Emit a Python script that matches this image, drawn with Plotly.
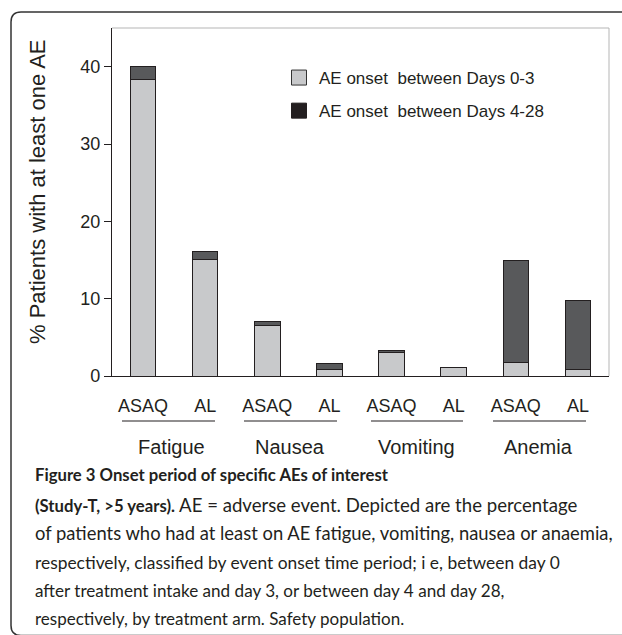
import plotly.graph_objects as go

# ---- data ----
arm_labels = ["ASAQ", "AL", "ASAQ", "AL", "ASAQ", "AL", "ASAQ", "AL"]
groups = ["Fatigue", "Nausea", "Vomiting", "Anemia"]
onset_0_3 = [38.3, 15.1, 6.5, 0.8, 3.0, 1.1, 1.8, 0.8]
onset_4_28 = [1.7, 1.0, 0.6, 0.8, 0.3, 0.0, 13.1, 9.0]
series_names = ["AE onset  between Days 0-3", "AE onset  between Days 4-28"]
y_ticks = [0, 10, 20, 30, 40]
bar_pos = list(range(len(arm_labels)))

# ---- layout geometry (pixels) ----
W, H = 622, 635
L, R, T, B = 112, 13, 28, 259
PW = W - L - R
PH = H - T - B
Y0 = H - B  # pixel y of the bottom axis


def px(x):
    return (x - L) / PW


def py(y):
    return (Y0 - y) / PH


group_center_px = [171, 290, 416, 538]
underline_px = [(122, 215), (244, 337), (371, 463), (493, 586)]

LIGHT = "#c8c9cb"
DARK = "#58595b"
EDGE = "#231f20"
INK = "#231f20"
FONT = "Liberation Sans"

fig = go.Figure()
fig.add_trace(go.Bar(x=bar_pos, y=onset_0_3, marker=dict(color=LIGHT, line=dict(color=EDGE, width=1)),
                     width=0.41, showlegend=False))
fig.add_trace(go.Bar(x=bar_pos, y=onset_4_28, marker=dict(color=DARK, line=dict(color=EDGE, width=1)),
                     width=0.41, showlegend=False))
# legend entries
fig.add_trace(go.Scatter(x=[None], y=[None], mode="markers", name=series_names[0], legendgroup="a",
                         marker=dict(symbol="square", size=15, color=LIGHT, line=dict(color="#333", width=1))))
fig.add_trace(go.Scatter(x=[None], y=[None], mode="markers", name=series_names[1], legendgroup="b",
                         marker=dict(symbol="square", size=15, color=EDGE, line=dict(color=EDGE, width=1))))

shapes = []
# top / right light frame lines
shapes.append(dict(type="line", xref="paper", yref="paper", x0=0, x1=1, y0=1, y1=1,
                   line=dict(color="#b5b5b5", width=1)))
shapes.append(dict(type="line", xref="paper", yref="paper", x0=1, x1=1, y0=0, y1=1,
                   line=dict(color="#b5b5b5", width=1)))
# group underlines
for a, b in underline_px:
    shapes.append(dict(type="line", xref="paper", yref="paper", x0=px(a), x1=px(b), y0=py(421), y1=py(421),
                       line=dict(color=INK, width=1.2)))
# rounded outer border
bx0, by0, by1, bx1, rr = 11, 12, 635.5, 660, 10
path = (f"M {px(bx1)},{py(by0)} L {px(bx0 + rr)},{py(by0)} Q {px(bx0)},{py(by0)} {px(bx0)},{py(by0 + rr)} "
        f"L {px(bx0)},{py(by1 - rr)} Q {px(bx0)},{py(by1)} {px(bx0 + rr)},{py(by1)} L {px(bx1)},{py(by1)}")
shapes.append(dict(type="path", xref="paper", yref="paper", path=path, line=dict(color="#333", width=1.5)))

annotations = []
for g, cx in zip(groups, group_center_px):
    annotations.append(dict(text=g, xref="paper", yref="paper", x=px(cx), y=py(447), xanchor="center",
                            yanchor="middle", showarrow=False, font=dict(family=FONT, size=20, color=INK)))
# y-axis title
annotations.append(dict(text="% Patients with at least one AE", xref="paper", yref="paper", x=px(37), y=py(192),
                        textangle=-90, xanchor="center", yanchor="middle", showarrow=False,
                        font=dict(family=FONT, size=22, color=INK)))

BOLD = '<span style="font-size:16.7px"><b>{}</b></span>'
caption_lines = [
    BOLD.format("Figure 3 Onset period of specific AEs of interest"),
    BOLD.format("(Study-T, &gt;5 years).") + " AE = adverse event. Depicted are the percentage",
    "of patients who had at least on AE fatigue, vomiting, nausea or anaemia,",
    "respectively, classified by event onset time period; i e, between day 0",
    "after treatment intake and day 3, or between day 4 and day 28,",
    "respectively, by treatment arm. Safety population.",
]
caption_y = [475, 505, 533, 562, 590, 618]
caption_size = [17.5, 18.6, 18.4, 17.4, 17.1, 17.0]
for line, cy, fs in zip(caption_lines, caption_y, caption_size):
    annotations.append(dict(text=line, xref="paper", yref="paper", x=px(33), y=py(cy), xanchor="left",
                            yanchor="middle", showarrow=False,
                            font=dict(family="Lato", size=fs, color=INK)))

fig.update_layout(
    width=W, height=H,
    margin=dict(l=L, r=R, t=T, b=B),
    paper_bgcolor="white", plot_bgcolor="white",
    barmode="stack",
    font=dict(family=FONT, color=INK),
    xaxis=dict(range=[-0.5, 7.5], tickmode="array", tickvals=bar_pos, ticktext=arm_labels,
               ticks="", showgrid=False, zeroline=False, showline=True, linecolor=INK, linewidth=1.2,
               tickfont=dict(family=FONT, size=18, color=INK), ticklabelstandoff=13),
    yaxis=dict(range=[0, 45], tickmode="array", tickvals=y_ticks, ticks="outside", ticklen=7,
               tickcolor=INK, showgrid=False, zeroline=False, showline=True, linecolor=INK,
               linewidth=1.2, tickfont=dict(family=FONT, size=18, color=INK)),
    legend=dict(x=px(279), y=py(60), xanchor="left", yanchor="top", font=dict(family=FONT, size=17, color=INK),
                traceorder="grouped", tracegroupgap=8, bgcolor="rgba(0,0,0,0)", itemsizing="trace"),
    shapes=shapes,
    annotations=annotations,
)

fig.write_html("out.html", config={"displayModeBar": False},
               post_script="document.body.style.margin='0px';")
